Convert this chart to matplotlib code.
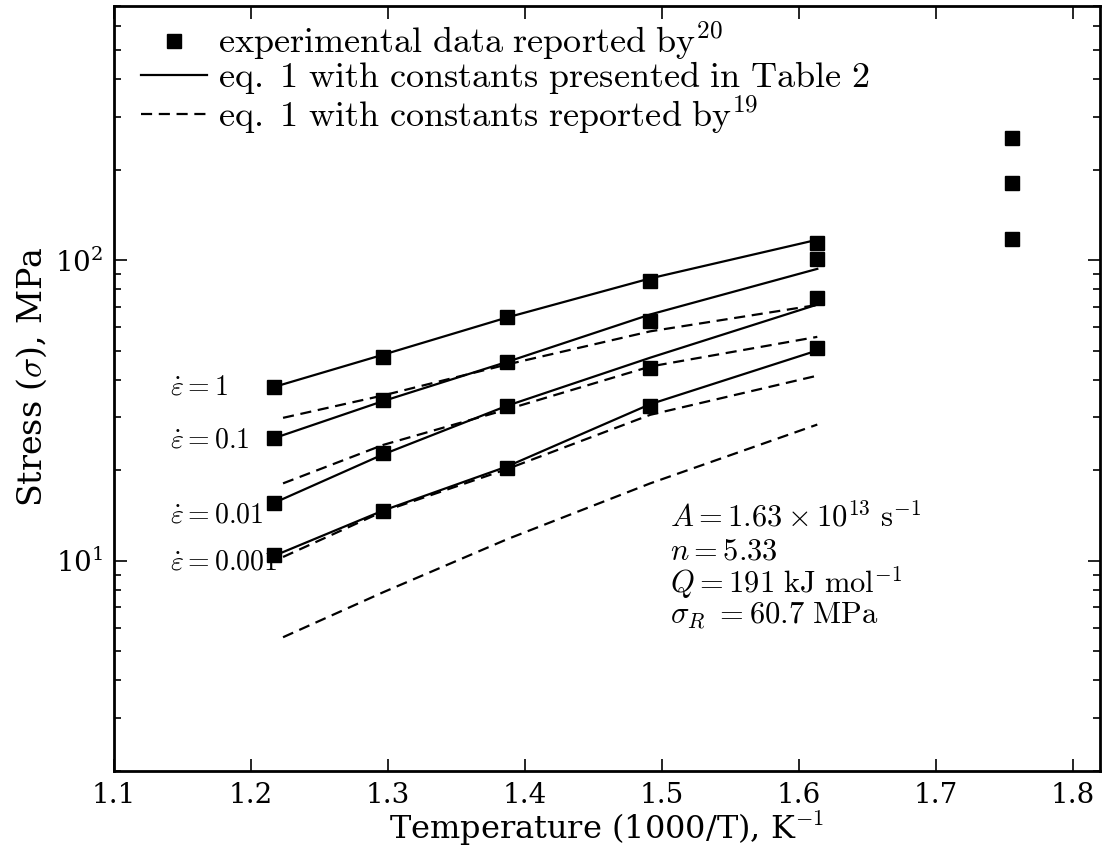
import matplotlib
matplotlib.use("Agg")
import matplotlib.pyplot as plt
from matplotlib.ticker import LogLocator, FixedLocator, NullFormatter

plt.rcParams['mathtext.fontset'] = 'cm'
plt.rcParams['font.family'] = ['DejaVu Serif']

# inverse temperature (1000/T) columns
x_cols = [1.217, 1.2965, 1.387, 1.4915, 1.6135]
x_extra = 1.756

# experimental data (MPa), one list per strain rate
exp_1 = [37.9, 47.7, 64.8, 85.6, 114.3]
exp_01 = [25.6, 34.2, 45.9, 63.0, 101.1]
exp_001 = [15.6, 22.8, 32.8, 43.8, 74.6]
exp_0001 = [10.47, 14.7, 20.4, 32.8, 51.1]
exp_extra = [255.6, 181.0, 117.8]

# eq. 1 with constants presented in Table 2 (solid)
sol_1 = [37.9, 48.5, 64.5, 87.0, 117.0]
sol_01 = [25.6, 34.0, 45.9, 66.0, 93.6]
sol_001 = [15.6, 22.6, 32.8, 47.4, 71.2]
sol_0001 = [10.4, 14.7, 20.6, 33.2, 50.1]

# eq. 1 with constants reported by ref 19 (dashed)
x_dash = [1.2234, 1.2965, 1.387, 1.4915, 1.6135]
dash_1 = [29.9, 35.5, 45.0, 58.0, 71.0]
dash_01 = [18.1, 24.3, 31.9, 44.3, 55.6]
dash_001 = [10.3, 14.6, 20.2, 30.6, 41.3]
dash_0001 = [5.57, 7.86, 11.8, 18.1, 28.4]

rate_labels = [r'$\dot{\varepsilon}=1$', r'$\dot{\varepsilon}=0.1$',
               r'$\dot{\varepsilon}=0.01$', r'$\dot{\varepsilon}=0.001$']
rate_label_y = [37.9, 25.3, 14.2, 9.9]

fig = plt.figure(figsize=(11.18, 8.46), dpi=100)
ax = fig.add_axes([0.102, 0.0887, 0.882, 0.904])
ax.set_yscale('log')

lw = 1.6
dsh = (5, 3)
for s in [sol_1, sol_01, sol_001, sol_0001]:
    ax.plot(x_cols, s, '-', color='black', lw=lw)
for d in [dash_1, dash_01, dash_001, dash_0001]:
    ax.plot(x_dash, d, '--', color='black', lw=lw, dashes=dsh)

ms = 10
for e in [exp_1, exp_01, exp_001, exp_0001]:
    ax.plot(x_cols, e, 's', color='black', ms=ms, ls='none')
ax.plot([x_extra] * len(exp_extra), exp_extra, 's', color='black', ms=ms, ls='none')

# legend handles
h1, = ax.plot([], [], 's', color='black', ms=ms, ls='none')
h2, = ax.plot([], [], '-', color='black', lw=lw)
h3, = ax.plot([], [], '--', color='black', lw=lw, dashes=dsh)
leg = ax.legend([h1, h2, h3],
                [r'$\mathrm{experimental\ data\ reported\ by}^{20}$',
                 r'$\mathrm{eq.\ 1\ with\ constants\ presented\ in\ Table\ 2}$',
                 r'$\mathrm{eq.\ 1\ with\ constants\ reported\ by}^{19}$'],
                loc='upper left', frameon=False, fontsize=26,
                labelspacing=-0.08, handlelength=1.85, handletextpad=0.3,
                borderpad=0.0, borderaxespad=0.0,
                bbox_to_anchor=(0.027, 0.982))

for lab, yv in zip(rate_labels, rate_label_y):
    ax.text(1.141, yv, lab, fontsize=20, ha='left', va='center')

tx = 1.506
fs_box = 22
ax.text(tx, 13.9, r'$A=1.63\times10^{13}\ \mathrm{s}^{-1}$', fontsize=fs_box, va='center')
ax.text(tx, 10.8, r'$n=5.33$', fontsize=fs_box, va='center')
ax.text(tx, 8.45, r'$Q=191\ \mathrm{kJ\ mol}^{-1}$', fontsize=fs_box, va='center')
ax.text(tx, 6.6, r'$\sigma_R\ =60.7\ \mathrm{MPa}$', fontsize=fs_box, va='center')

ax.set_xlim(1.1, 1.82)
ax.set_ylim(2, 700)
ax.xaxis.set_major_locator(FixedLocator([1.1, 1.2, 1.3, 1.4, 1.5, 1.6, 1.7, 1.8]))
ax.set_xticklabels(['1.1', '1.2', '1.3', '1.4', '1.5', '1.6', '1.7', '1.8'])
ax.yaxis.set_major_locator(LogLocator(base=10, numticks=10))
ax.yaxis.set_minor_locator(LogLocator(base=10, subs=range(2, 10), numticks=20))
ax.yaxis.set_minor_formatter(NullFormatter())

ax.tick_params(which='both', direction='in', top=True, right=True, labelsize=20, width=1.2)
ax.tick_params(which='major', length=9, pad=8)
ax.tick_params(which='minor', length=5)
for sp in ax.spines.values():
    sp.set_linewidth(2.0)

ax.set_xlabel(r'Temperature (1000/T), K$^{-1}$', fontsize=23, labelpad=0)
ax.set_ylabel(r'Stress ($\sigma$), MPa', fontsize=24)
ax.yaxis.set_label_coords(-0.066, 0.515)

fig.savefig('out.png', dpi=100)
